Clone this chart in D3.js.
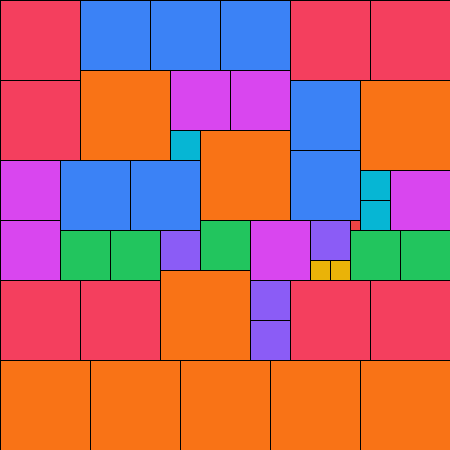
<!DOCTYPE html>
<html>
<head>
<meta charset="utf-8">
<script src="https://d3js.org/d3.v7.min.js"></script>
<style>
  body { margin: 0; background: #fff; }
</style>
</head>
<body>
<script>
// square packing: position and side in grid units (1 unit = 10px)
var sqX    = [0, 8, 15, 22, 29, 37, 0, 8, 17, 23, 17, 20, 29, 36, 0, 6, 13, 29, 36, 36, 39, 35, 0, 6, 11, 16, 20, 25, 31, 31, 33, 35, 40, 0, 8, 16, 25, 25, 29, 37, 0, 9, 18, 27, 36];
var sqY    = [0, 0, 0, 0, 0, 0, 8, 7, 7, 7, 13, 13, 8, 8, 16, 16, 16, 15, 17, 20, 17, 22, 22, 23, 23, 23, 22, 22, 22, 26, 26, 23, 23, 28, 28, 27, 28, 32, 28, 28, 36, 36, 36, 36, 36];
var sqSide = [8, 7, 7, 7, 8, 8, 8, 9, 6, 6, 3, 9, 7, 9, 6, 7, 7, 7, 3, 3, 6, 1, 6, 5, 5, 4, 5, 6, 4, 2, 2, 5, 5, 8, 8, 9, 4, 4, 8, 8, 9, 9, 9, 9, 9];

// colour per side length
var sides   = [1, 2, 3, 4, 5, 6, 7, 8, 9];
var palette = ["#ef4444", "#eab308", "#06b6d4", "#8b5cf6", "#22c55e", "#d946ef", "#3b82f6", "#f43f5e", "#f97316"];

var w = 450, h = 450;
var color = d3.scaleOrdinal().domain(sides).range(palette);
var sx = d3.scaleLinear().domain([0, 45]).range([0, w]);
var sy = d3.scaleLinear().domain([0, 45]).range([0, h]);

var data = sqX.map(function(x, i) {
    return { x: x, y: sqY[i], s: sqSide[i] };
});

var svg = d3.select("body").append("svg")
    .attr("width", w)
    .attr("height", h);

svg.selectAll("rect")
    .data(data)
    .enter()
    .append("rect")
    .attr("x", function(d) { return sx(d.x) + 0.5; })
    .attr("y", function(d) { return sy(d.y) + 0.5; })
    .attr("width", function(d) { return sx(d.s) - sx(0); })
    .attr("height", function(d) { return sy(d.s) - sy(0); })
    .attr("fill", function(d) { return color(d.s); })
    .attr("stroke", "#000")
    .attr("stroke-width", 1);
</script>
</body>
</html>
